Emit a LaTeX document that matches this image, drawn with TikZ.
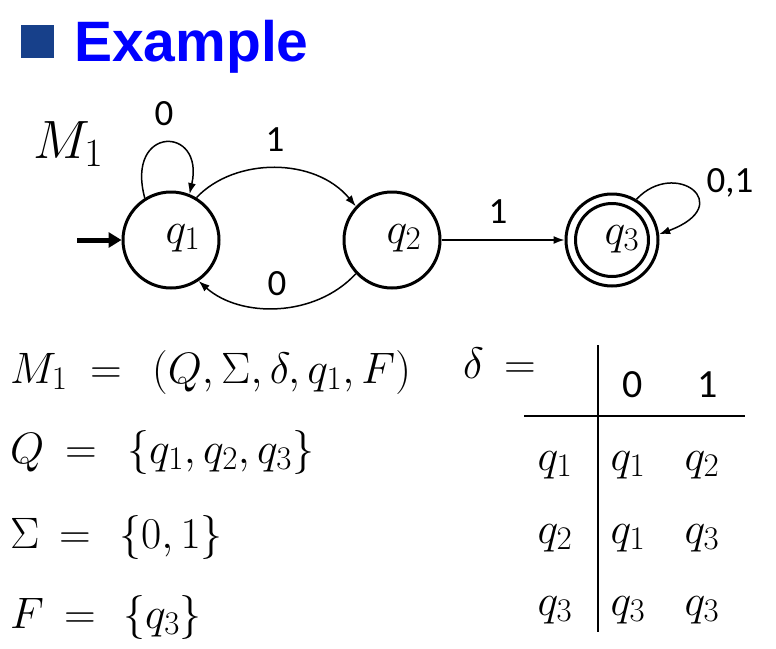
\documentclass[tikz,border=0pt]{standalone}
\usepackage{fix-cm}
\usepackage[no-math]{fontspec}
\setmainfont{Carlito}
\newfontfamily\titlefont{Liberation Sans}
\usetikzlibrary{arrows.meta}
\DeclareMathSizes{44}{44}{33}{24}
\DeclareMathSizes{54}{54}{40}{28}
\definecolor{bulletblue}{HTML}{17408A}
\definecolor{titleblue}{HTML}{0000FF}
\begin{document}
\begin{tikzpicture}[x=1pt,y=-1pt,
  state/.style={circle,draw,line width=3pt,minimum size=96pt,inner sep=0pt},
  statelab/.style={font=\fontsize{44}{44}\selectfont,inner sep=0pt,anchor=base},
  edge/.style={line width=1.5pt,-{Latex[length=11pt,width=8pt]}},
  lab/.style={font=\fontsize{37}{37}\selectfont,inner sep=0pt,anchor=base},
  hdr/.style={font=\fontsize{40}{40}\selectfont,inner sep=0pt,anchor=base},
  mathtxt/.style={font=\fontsize{44}{44}\selectfont,inner sep=0pt,anchor=base west},
  cell/.style={font=\fontsize{44}{44}\selectfont,inner sep=0pt,anchor=base},
  rule/.style={line width=1.5pt}]
\useasboundingbox (0,0) rectangle (776,648);
% title
\fill[bulletblue] (21,25) rectangle (54,58);
\node[anchor=base west,inner sep=0pt,text=titleblue,font=\titlefont\bfseries\fontsize{57}{57}\selectfont] (title) at (74,61) {Example};
% automaton
\node[anchor=base west,inner sep=0pt,font=\fontsize{54}{54}\selectfont] (mlabel) at (33,158) {$M_1$};
\node[state] (q1) at (171,240) {};
\node[state] (q2) at (392,240) {};
\node[state,minimum size=92pt] (q3) at (612,240) {};
\draw[line width=3pt] (q3.center) circle (36.5);
\node[statelab] (q1l) at (183,243) {$q_1$};
\node[statelab] (q2l) at (404,243) {$q_2$};
\node[statelab] (q3l) at (622,244) {$q_3$};
\coordinate (init) at (77,240);
\draw[line width=5pt,-{Triangle[length=13pt,width=15pt]}] (init) -- (q1);
\draw[edge] (q1.122) .. controls (125,125) and (205,125) .. (q1.68);
\node[lab] (l0a) at (164,125) {0};
\draw[edge] (q1.59) .. controls (235,157) and (315,157) .. (q2.137);
\node[lab] (l1a) at (275,151) {1};
\draw[edge] (q2.-137) .. controls (315,318) and (240,318) .. (q1.-56);
\node[lab] (l0b) at (277,295) {0};
\draw[edge] (q2) -- (q3);
\node[lab] (l1b) at (498,223) {1};
\draw[edge] (q3.59) .. controls (675,158) and (738,205) .. (q3.7);
\node[lab] (l01) at (730,192) {0,1};
% definitions
\node[mathtxt] (m1l) at (10,383) {$M_1$};
\node[mathtxt] (m1e) at (90,383) {$=$};
\node[mathtxt] (m1r) at (152,383) {$(Q,\Sigma,\delta,q_1,F)$};
\node[mathtxt] (ql) at (10,463) {$Q$};
\node[mathtxt] (qe) at (65,463) {$=$};
\node[mathtxt] (qr) at (127,463) {$\{q_1,q_2,q_3\}$};
\node[mathtxt] (sl) at (10,548) {$\Sigma$};
\node[mathtxt] (se) at (59,548) {$=$};
\node[mathtxt] (sr) at (119,548) {$\{0,1\}$};
\node[mathtxt] (fl) at (10,628) {$F$};
\node[mathtxt] (fe) at (64,628) {$=$};
\node[mathtxt] (fr) at (123,628) {$\{q_3\}$};
% table
\node[mathtxt] (dl) at (463,378) {$\delta$};
\node[mathtxt] (de) at (504,378) {$=$};
\coordinate (vt) at (598,345);
\coordinate (vb) at (598,632);
\coordinate (hl) at (524,416);
\coordinate (hr) at (745,416);
\draw[rule] (vt) -- (vb);
\draw[rule] (hl) -- (hr);
\node[hdr] (h0) at (633,397) {0};
\node[hdr] (h1) at (708,397) {1};
\node[cell] (r1) at (555,470) {$q_1$};
\node[cell] (c11) at (628,470) {$q_1$};
\node[cell] (c12) at (702,470) {$q_2$};
\node[cell] (r2) at (555,543) {$q_2$};
\node[cell] (c21) at (628,543) {$q_1$};
\node[cell] (c22) at (702,543) {$q_3$};
\node[cell] (r3) at (555,615) {$q_3$};
\node[cell] (c31) at (628,615) {$q_3$};
\node[cell] (c32) at (702,615) {$q_3$};
\end{tikzpicture}
\end{document}
